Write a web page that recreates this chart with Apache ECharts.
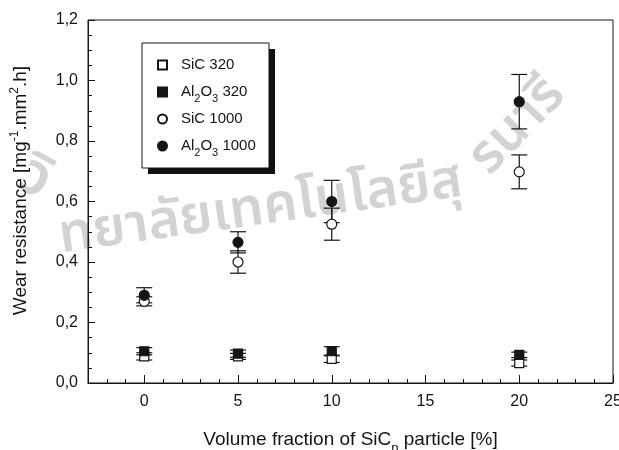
<!DOCTYPE html>
<html>
<head>
<meta charset="utf-8">
<script src="https://cdn.jsdelivr.net/npm/echarts@6/dist/echarts.min.js"></script>
<style>
  html, body { margin: 0; padding: 0; background: #fff; }
  #chart { width: 619px; height: 450px; }
</style>
</head>
<body>
<div id="chart"></div>
<script>
// Volume fraction of SiC particles [%]
const fractions = [0, 5, 10, 20];

// Wear resistance [mg-1.mm2.h] and standard deviations per abrasive
const sic320 = [0.088, 0.088, 0.080, 0.066];
const sic320Err = [0.012, 0.010, 0.012, 0.010];
const al320 = [0.105, 0.097, 0.105, 0.093];
const al320Err = [0.012, 0.012, 0.015, 0.009];
const sic1000 = [0.270, 0.400, 0.525, 0.698];
const sic1000Err = [0.015, 0.037, 0.053, 0.056];
const al1000 = [0.290, 0.465, 0.600, 0.930];
const al1000Err = [0.025, 0.035, 0.070, 0.090];

const seriesNames = ['SiC 320', 'Al2O3 320', 'SiC 1000', 'Al2O3 1000'];
const majorXTicks = [0, 5, 10, 15, 20, 25];

const FONT = '"Liberation Sans", Arial, sans-serif';
const THAI = '"Noto Sans Thai", "DejaVu Sans", sans-serif';
const INK = '#151515';
const MARK = '#d3d3d3';

// legend frame with a solid drop shadow
const LEGEND_BOX = { x: 142, y: 43, width: 127, height: 125, shadow: 6 };

function points(values, errs) {
  return fractions.map((x, i) => [x, values[i], errs[i]]);
}

function errorBar(params, api) {
  const x = api.value(0), y = api.value(1), e = api.value(2);
  const top = api.coord([x, y + e]);
  const bot = api.coord([x, y - e]);
  const half = 8;
  const st = { stroke: INK, lineWidth: 1.2 };
  return {
    type: 'group',
    children: [
      { type: 'line', shape: { x1: top[0], y1: top[1], x2: bot[0], y2: bot[1] }, style: st },
      { type: 'line', shape: { x1: top[0] - half, y1: top[1], x2: top[0] + half, y2: top[1] }, style: st },
      { type: 'line', shape: { x1: bot[0] - half, y1: bot[1], x2: bot[0] + half, y2: bot[1] }, style: st }
    ]
  };
}

function errSeries(name, values, errs) {
  return {
    name: name + ' sd', type: 'custom', z: 1,
    renderItem: errorBar,
    encode: { x: 0, y: 1 },
    data: points(values, errs),
    silent: true
  };
}

function markSeries(name, values, errs, symbol, filled) {
  return {
    name: name, type: 'scatter', z: 5,
    symbol: symbol, symbolSize: symbol === 'circle' ? 10 : 9,
    itemStyle: { color: filled ? INK : '#fff', borderColor: INK, borderWidth: 1.2, opacity: 1 },
    data: points(values, errs)
  };
}

const chart = echarts.init(document.getElementById('chart'), null, { renderer: 'canvas' });

const B = LEGEND_BOX;
const option = {
  animation: false,
  backgroundColor: '#fff',
  textStyle: { fontFamily: FONT, color: INK },
  graphic: [
    { type: 'text', z: -10, left: 6, top: 150, rotation: -0.5,
      style: { text: 'วิ', font: '600 58px ' + THAI, fill: MARK } },
    { type: 'text', z: -10, left: 56, top: 158, rotation: 0.14,
      style: { text: 'ทยาลัยเทคโนโลยีสุ', font: '600 54px ' + THAI, fill: MARK } },
    { type: 'text', z: -10, left: 462, top: 70, rotation: 0.8,
      style: { text: 'รนารี', font: '600 54px ' + THAI, fill: MARK } },
    { type: 'rect', z: 3, shape: { x: B.x + B.shadow, y: B.y + B.shadow, width: B.width, height: B.height },
      style: { fill: '#111' } },
    { type: 'rect', z: 3, shape: { x: B.x, y: B.y, width: B.width, height: B.height },
      style: { fill: '#fff', stroke: INK, lineWidth: 1 } }
  ],
  grid: {
    left: 88, right: 6, top: 20, bottom: 67,
    outerBoundsMode: 'none', containLabel: false,
    show: true, borderColor: INK, borderWidth: 1, backgroundColor: 'transparent'
  },
  legend: {
    data: seriesNames,
    orient: 'vertical',
    left: 142, top: 43, z: 10,
    padding: [10, 13, 11, 15],
    itemGap: 3,
    itemWidth: 9, itemHeight: 9,
    backgroundColor: 'transparent',
    borderWidth: 0,
    formatter: n => n.replace('Al2O3', 'Al{s|2}O{s|3}'),
    textStyle: {
      fontFamily: FONT, fontSize: 15, color: INK, lineHeight: 24, padding: [0, 0, 0, 9],
      rich: { s: { fontFamily: FONT, fontSize: 11, color: INK, lineHeight: 12, verticalAlign: 'bottom' } }
    }
  },
  xAxis: [
    {
      type: 'value', min: -3, max: 25, interval: 1,
      axisLine: { show: true, onZero: false, lineStyle: { color: INK, width: 1 } },
      axisTick: { show: true, inside: true, length: 4, lineStyle: { color: INK } },
      axisLabel: {
        fontFamily: FONT, fontSize: 16, color: INK, margin: 11,
        formatter: v => (v % 5 === 0 && v >= 0 ? String(v) : '')
      },
      splitLine: { show: false },
      name: 'Volume fraction of SiC{s|p} particle [%]',
      nameLocation: 'middle', nameGap: 41,
      nameTextStyle: {
        fontFamily: FONT, fontSize: 19, color: INK,
        rich: { s: { fontFamily: FONT, fontSize: 13, color: INK, padding: [18, 0, 0, 0] } }
      }
    },
    {
      type: 'value', min: -3, max: 25, position: 'bottom',
      axisLine: { show: false, onZero: false },
      axisTick: { show: true, inside: true, length: 8, customValues: majorXTicks, lineStyle: { color: INK } },
      axisLabel: { show: false },
      splitLine: { show: false }
    }
  ],
  yAxis: {
    type: 'value', min: 0, max: 1.2, interval: 0.2,
    axisLine: { show: true, onZero: false, lineStyle: { color: INK, width: 1 } },
    axisTick: { show: true, inside: true, length: 7, lineStyle: { color: INK } },
    minorTick: { show: true, splitNumber: 4, length: 4, lineStyle: { color: INK } },
    axisLabel: {
      fontFamily: FONT, fontSize: 16, color: INK, margin: 10,
      formatter: v => v.toFixed(1).replace('.', ',')
    },
    splitLine: { show: false },
    minorSplitLine: { show: false },
    name: 'Wear resistance [mg{u|-1}.mm{u|2}.h]',
    nameLocation: 'middle', nameGap: 55,
    nameTextStyle: {
      fontFamily: FONT, fontSize: 19, color: INK, padding: [0, 0, 0, 22],
      rich: { u: { fontFamily: FONT, fontSize: 12, color: INK, padding: [0, 0, 12, 0] } }
    }
  },
  series: [
    errSeries('SiC 320', sic320, sic320Err),
    errSeries('Al2O3 320', al320, al320Err),
    errSeries('SiC 1000', sic1000, sic1000Err),
    errSeries('Al2O3 1000', al1000, al1000Err),
    markSeries('SiC 320', sic320, sic320Err, 'rect', false),
    markSeries('Al2O3 320', al320, al320Err, 'rect', true),
    markSeries('SiC 1000', sic1000, sic1000Err, 'circle', false),
    markSeries('Al2O3 1000', al1000, al1000Err, 'circle', true)
  ]
};

chart.setOption(option);
</script>
</body>
</html>
